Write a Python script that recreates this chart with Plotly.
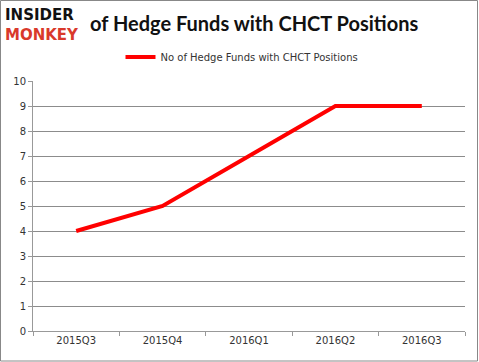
import plotly.graph_objects as go

quarters = ["2015Q3", "2015Q4", "2016Q1", "2016Q2", "2016Q3"]
hedge_funds = [4, 5, 7, 9, 9]
series_name = "No of Hedge Funds with CHCT Positions"
y_ticks = list(range(0, 11))

W, H = 479, 362
L, R, T, B = 33, 14, 81, 31
pw, ph = W - L - R, H - T - B

def px_x(x):
    return (x - L) / pw

def px_y(y):
    return (H - B - y) / ph

fig = go.Figure()
fig.add_trace(go.Scatter(
    x=quarters, y=hedge_funds, mode="lines", name=series_name,
    line=dict(color="#ff0000", width=4),
))

fig.update_layout(
    width=W, height=H,
    margin=dict(l=L, r=R, t=T, b=B, autoexpand=False),
    paper_bgcolor="white", plot_bgcolor="white",
    showlegend=True,
    legend=dict(orientation="h", x=px_x(242), xanchor="center", y=px_y(57), yanchor="middle",
                font=dict(family="DejaVu Sans", size=10, color="#333"),
                itemwidth=30, bgcolor="rgba(0,0,0,0)"),
    xaxis=dict(type="category", showgrid=False, showline=True, linecolor="#999",
               ticks="outside", tickson="boundaries", ticklen=4, tickcolor="#999",
               tickfont=dict(family="DejaVu Sans", size=10, color="#333"),
               range=[-0.5, 4.5], automargin=False),
    yaxis=dict(range=[0, 10], tickvals=y_ticks, showgrid=True, gridcolor="#8c8c8c",
               gridwidth=1, showline=True, linecolor="#999", ticks="outside",
               ticklen=4, tickcolor="#999", zeroline=False, automargin=False,
               tickfont=dict(family="DejaVu Sans", size=10, color="#333")),
)

fig.add_annotation(text="<b>of Hedge Funds with CHCT Positions</b>", xref="paper", yref="paper",
                   x=px_x(254), y=px_y(23), xanchor="center", yanchor="middle",
                   showarrow=False, font=dict(family="Lato", size=20, color="#111"))
fig.add_annotation(text="<b>INSIDER</b>", xref="paper", yref="paper",
                   x=px_x(3), y=px_y(15), xanchor="left", yanchor="middle",
                   showarrow=False, font=dict(family="DejaVu Sans", size=15, color="#111"))
fig.add_annotation(text="<b>MONKEY</b>", xref="paper", yref="paper",
                   x=px_x(3), y=px_y(35), xanchor="left", yanchor="middle",
                   showarrow=False, font=dict(family="DejaVu Sans", size=15, color="#d9392b"))

fig.add_shape(type="rect", xref="paper", yref="paper",
              x0=px_x(0.5), x1=px_x(477.5), y0=px_y(361), y1=px_y(0.5),
              line=dict(color="#888", width=1), fillcolor="rgba(0,0,0,0)", layer="below")

fig.write_html("out.html", config={"displayModeBar": False},
               post_script="document.body.style.margin='0';document.body.style.overflow='hidden';")
